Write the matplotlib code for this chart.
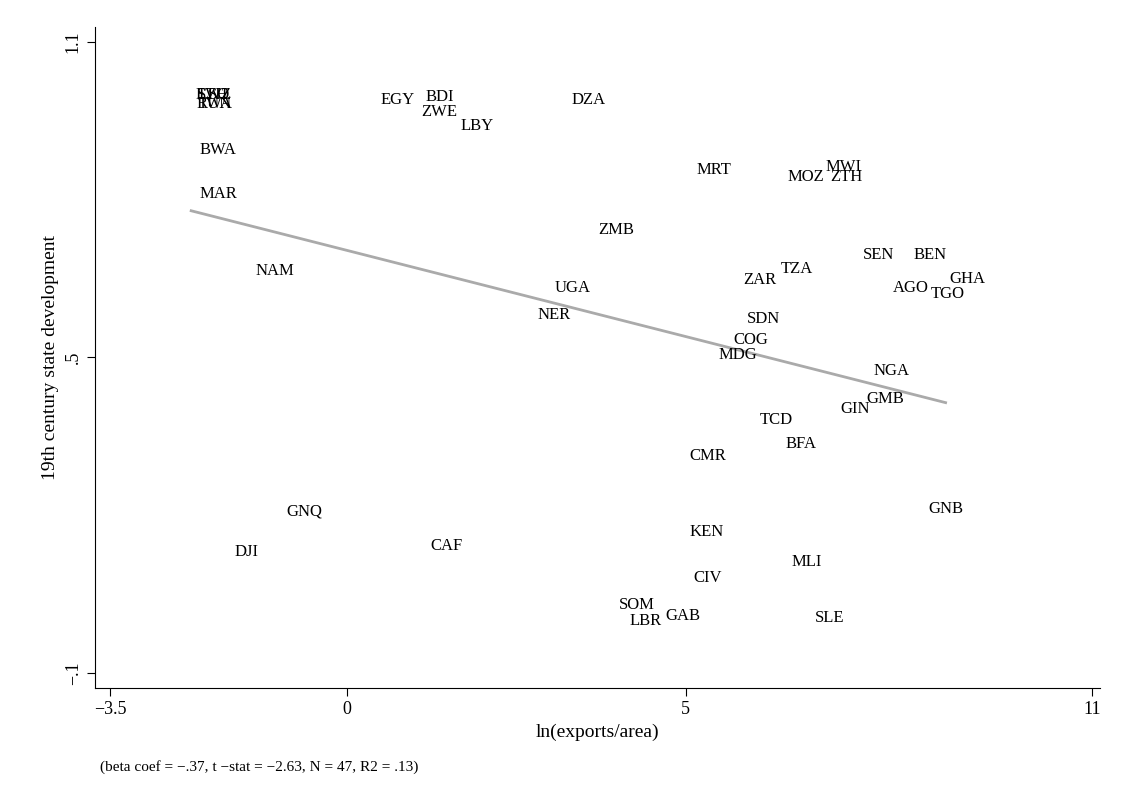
import numpy as np
import matplotlib
matplotlib.use("Agg")
from matplotlib import pyplot as plt

plt.rcParams['font.family'] = ['Liberation Serif', 'DejaVu Serif']

# label centre positions; markers sit left of labels
codes = ["SWZ", "LSO", "ETH", "RWA", "TUN", "BWA", "MAR", "NAM", "GNQ", "DJI",
         "EGY", "BDI", "ZWE", "LBY", "DZA", "CAF", "MRT", "ZMB", "UGA", "NER",
         "MWI", "MOZ", "ZTH", "SEN", "BEN", "GHA", "AGO", "TGO", "ZAR", "TZA",
         "SDN", "COG", "MDG", "NGA", "GMB", "GIN", "TCD", "BFA", "CMR", "GNB",
         "KEN", "MLI", "CIV", "SOM", "GAB", "LBR", "SLE"]
x_lab = [-1.85, -1.83, -1.87, -1.85, -1.83, -1.81, -1.81, -0.98, -0.52, -1.29,
         0.86, 1.53, 1.47, 2.05, 3.69, 1.60, 5.53, 4.08, 3.43, 3.19,
         7.43, 6.87, 7.51, 7.98, 8.74, 9.27, 8.43, 8.99, 6.22, 6.77,
         6.28, 6.08, 5.85, 8.15, 8.04, 7.66, 6.47, 6.84, 5.42, 8.96,
         5.43, 6.93, 5.49, 4.38, 5.07, 4.54, 7.28]
state_dev = [1.0, 1.0, 1.0, 0.983, 0.983, 0.894, 0.81, 0.665, 0.207, 0.131,
             0.99, 0.996, 0.966, 0.941, 0.99, 0.141, 0.857, 0.743, 0.633, 0.58,
             0.863, 0.844, 0.844, 0.694, 0.694, 0.65, 0.633, 0.62, 0.648, 0.669,
             0.574, 0.534, 0.504, 0.475, 0.422, 0.403, 0.382, 0.335, 0.312, 0.211,
             0.169, 0.112, 0.080, 0.030, 0.008, -0.002, 0.004]

exports = np.array(x_lab) - 0.43
state_dev = np.array(state_dev)

fig = plt.figure(figsize=(11.29, 8.10), dpi=100)
ax = fig.add_axes([95 / 1129, 122 / 810, 1005 / 1129, 661 / 810])

for c, xv, yv in zip(codes, exports, state_dev):
    ax.annotate(c, (xv, yv), xytext=(3, 0), textcoords="offset points",
                ha="left", va="center", fontsize=12)

b, a = np.polyfit(exports, state_dev, 1)
xs = np.array([exports.min(), exports.max()])
ax.plot(xs, a + b * xs, color="#aaaaaa", lw=2)

ax.set_xlim(-3.72, 11.12)
ax.set_ylim(-0.1285, 1.1285)
ax.set_xticks([-3.5, 0, 5, 11])
ax.set_xticklabels(["\u22123.5", "0", "5", "11"])
ax.set_yticks([-0.1, 0.5, 1.1])
ax.set_yticklabels(["\u2212.1", ".5", "1.1"], rotation=90, va="center")
ax.tick_params(labelsize=13, length=6)
for s in ["top", "right"]:
    ax.spines[s].set_visible(False)
ax.set_xlabel("ln(exports/area)", fontsize=14)
ax.set_ylabel("19th century state development", fontsize=14)
fig.text(100 / 1129, 1 - 767 / 810,
         "(beta coef = \u2212.37, t \u2212stat = \u22122.63, N = 47, R2 = .13)",
         fontsize=11, va="center")

fig.savefig("out.png")
